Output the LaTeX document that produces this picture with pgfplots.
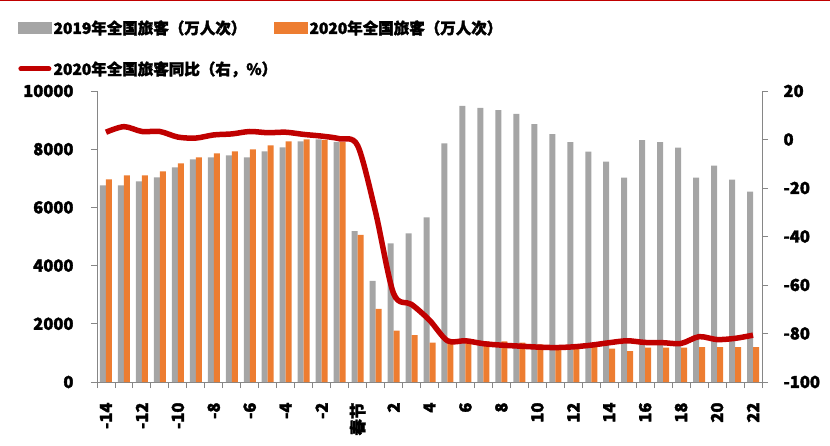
\documentclass[border=0pt]{standalone}
\usepackage{pgfplots}
\pgfplotsset{compat=1.18}
\usepackage{pgfplotstable}
\usepackage{fontspec}
\setmainfont{Noto Sans CJK SC}[BoldFeatures={FakeBold=2}]
\definecolor{cgray}{HTML}{A5A5A5}
\definecolor{corange}{HTML}{ED7D31}
\definecolor{cred}{HTML}{C00000}
\definecolor{caxis}{HTML}{868686}

\pgfplotstableread{
g a b
0 6760 6966
1 6760 7103
2 6897 7103
3 7034 7240
4 7378 7515
5 7653 7721
6 7721 7859
7 7790 7928
8 7721 7997
9 7928 8134
10 8065 8271
11 8271 8340
12 8340 8320
13 8250 8250
14 5189 5052
15 3471 2509
16 4766 1763
17 5110 1615
18 5660 1350
19 8203 1420
20 9485 1478
21 9416 1400
22 9347 1400
23 9210 1350
24 8866 1290
25 8522 1220
26 8247 1200
27 7914 1200
28 7570 1144
29 7021 1065
30 8316 1180
31 8247 1180
32 8052 1180
33 7021 1202
34 7433 1202
35 6952 1202
36 6540 1202
}\bars

\pgfplotstableread{
g y
0 3.0
1 5.3
2 3.3
3 3.3
4 1.0
5 0.6
6 1.9
7 2.3
8 3.3
9 2.8
10 3.0
11 2.1
12 1.4
13 0.3
14 -2.5
15 -30
16 -63.5
17 -68
18 -74.5
19 -83
20 -83
21 -84.2
22 -84.8
23 -85.2
24 -85.6
25 -85.8
26 -85.5
27 -84.8
28 -83.8
29 -83.0
30 -83.7
31 -83.8
32 -84.1
33 -81.3
34 -82.5
35 -82.0
36 -80.7
}\yoy

\newcommand{\tickfont}{\bfseries\fontsize{16.5}{20}\selectfont}
\newcommand{\legfont}{\bfseries\fontsize{15.5}{18}\selectfont}

\begin{document}
\begin{tikzpicture}[x=1pt,y=1pt]
\useasboundingbox (0,0) rectangle (830,445);
\fill[cred] (0,443.8) rectangle (830,445);
\begin{axis}[
  at={(97pt,63pt)}, anchor=south west,
  scale only axis, width=665pt, height=291pt,
  xmin=-0.5, xmax=36.5, ymin=0, ymax=10000,
  axis x line*=bottom, axis y line*=left,
  axis line style={draw=caxis, line width=0.9pt, -},
  tick style={draw=caxis, line width=0.9pt},
  tick align=outside, major tick length=6pt,
  xtick={-0.5,0.5,...,36.5}, xticklabels={},
  extra x ticks={0,2,...,36},
  extra x tick labels={-14,-12,-10,-8,-6,-4,-2,春节,2,4,6,8,10,12,14,16,18,20,22},
  extra x tick style={major tick length=0pt,
    tick label style={rotate=90, anchor=east, font=\tickfont, xshift=-17pt}},
  ytick={0,2000,...,10000},
  scaled y ticks=false,
  yticklabel style={font=\tickfont, anchor=east, xshift=-14pt},
  /pgf/number format/set thousands separator={},
  /pgf/number format/assume math mode=true,
  ybar=0pt, bar width=6pt,
  clip=false,
]
\addplot[fill=cgray, draw=none] table[x=g,y=a]{\bars};
\addplot[fill=corange, draw=none] table[x=g,y=b]{\bars};
\end{axis}
\begin{axis}[
  at={(97pt,63pt)}, anchor=south west,
  scale only axis, width=665pt, height=291pt,
  xmin=-0.5, xmax=36.5, ymin=-100, ymax=20,
  axis x line=none, axis y line*=right,
  axis line style={draw=caxis, line width=0.9pt, -},
  tick style={draw=caxis, line width=0.9pt},
  tick align=outside, major tick length=6pt,
  ytick={-100,-80,...,20},
  yticklabel style={font=\tickfont, anchor=west, xshift=12pt},
  /pgf/number format/assume math mode=true,
  legend columns=2,
  legend cell align=left,
  legend style={at={(axis description cs:-0.1188,1.25)}, anchor=north west,
    draw=none, fill=none, inner sep=0pt, font=\legfont,
    /tikz/every even column/.append style={column sep=-5pt},
    row sep=22pt, nodes={inner sep=2pt}},
]
\addlegendimage{legend image code/.code={\fill[cgray] (0pt,-5.5pt) rectangle (33pt,5.5pt);}}
\addlegendentry{2019年全国旅客（万人次）}
\addlegendimage{legend image code/.code={\fill[corange] (0pt,-5.5pt) rectangle (33pt,5.5pt);}}
\addlegendentry{2020年全国旅客（万人次）}
\addplot[cred, line width=5.5pt, smooth, tension=0.5, no markers,
  legend image code/.code={\draw[cred,line width=5pt,line cap=round] (2.5pt,0pt)--(30.5pt,0pt);}]
  table[x=g,y=y]{\yoy};
\addlegendentry{2020年全国旅客同比（右，\%）}
\end{axis}
\end{tikzpicture}
\end{document}
